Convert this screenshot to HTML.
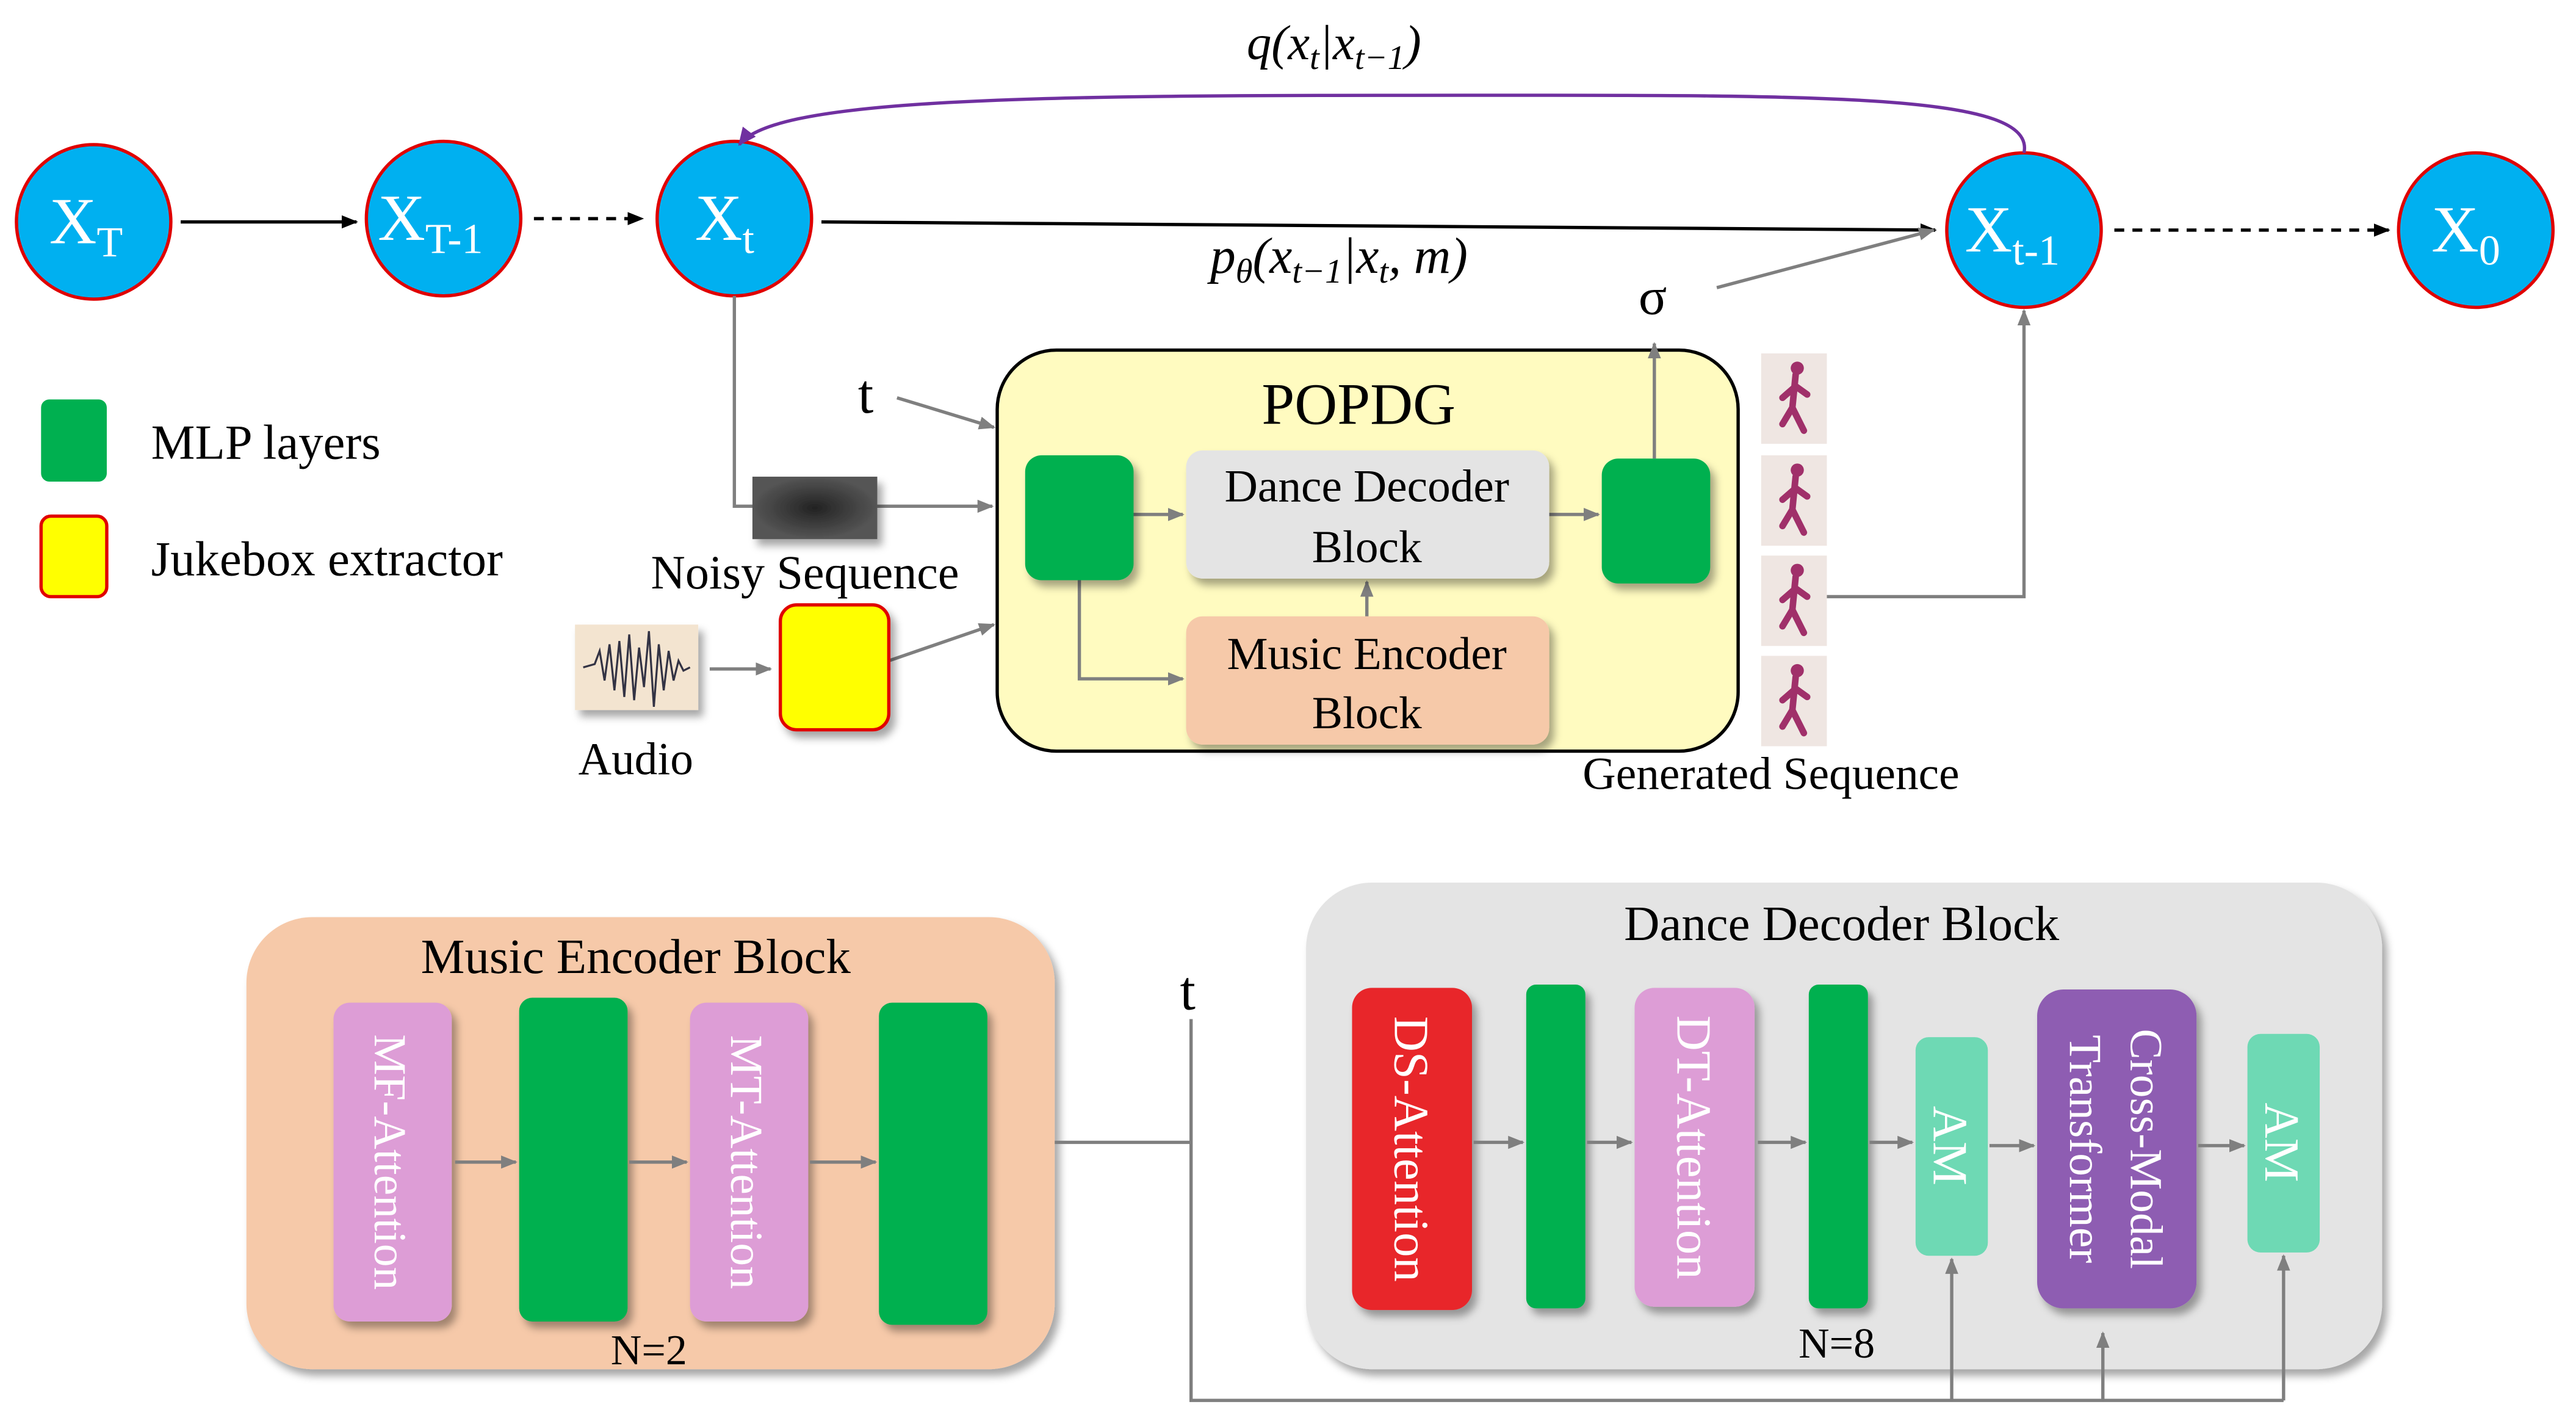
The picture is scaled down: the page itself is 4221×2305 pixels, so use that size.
<!DOCTYPE html>
<html><head><meta charset="utf-8"><style>
html,body{margin:0;padding:0;background:#fff;}
svg{display:block;}
text{font-family:"Liberation Serif",serif;}
</style></head><body>
<svg width="4221" height="2305" viewBox="0 0 1568 856" preserveAspectRatio="none" xmlns="http://www.w3.org/2000/svg">
<defs>
<marker id="ab" markerWidth="10" markerHeight="10" refX="9" refY="5" orient="auto" markerUnits="userSpaceOnUse"><path d="M0,1 L10,5 L0,9 Z" fill="#000"/></marker>
<marker id="ag" markerWidth="10" markerHeight="10" refX="9" refY="5" orient="auto" markerUnits="userSpaceOnUse"><path d="M0,1 L10,5 L0,9 Z" fill="#7f7f7f"/></marker>
<marker id="ap" markerWidth="12" markerHeight="12" refX="10" refY="6" orient="auto" markerUnits="userSpaceOnUse"><path d="M0,1 L11,6 L0,11 Z" fill="#7030a0"/></marker>
<filter id="sh" x="-20%" y="-20%" width="150%" height="150%"><feDropShadow dx="3" dy="4" stdDeviation="2.5" flood-color="#000" flood-opacity="0.35"/></filter>
<radialGradient id="nz"><stop offset="0" stop-color="#222"/><stop offset="1" stop-color="#555"/></radialGradient>
</defs>

<g fill="#00b0f0" stroke="#e00000" stroke-width="2">
<circle cx="57" cy="135" r="47"/><circle cx="270" cy="133" r="47"/><circle cx="447" cy="133" r="47"/><circle cx="1232" cy="140" r="47"/><circle cx="1507" cy="140" r="47"/>
</g>
<g fill="#fff" font-size="40">
<text x="30" y="148">X<tspan font-size="26" dy="8">T</tspan></text>
<text x="230" y="146">X<tspan font-size="26" dy="8">T-1</tspan></text>
<text x="423" y="146">X<tspan font-size="26" dy="8">t</tspan></text>
<text x="1196" y="153">X<tspan font-size="26" dy="8">t-1</tspan></text>
<text x="1480" y="153">X<tspan font-size="26" dy="8">0</tspan></text>
</g>
<g stroke="#000" stroke-width="2" fill="none">
<line x1="110" y1="135" x2="217" y2="135" marker-end="url(#ab)"/>
<line x1="325" y1="133" x2="391" y2="133" stroke-dasharray="6,5" marker-end="url(#ab)"/>
<line x1="500" y1="135" x2="1178" y2="140" marker-end="url(#ab)"/>
<line x1="1287" y1="140" x2="1454" y2="140" stroke-dasharray="6,5" marker-end="url(#ab)"/>
</g>
<path d="M1232,93 C1240,55 1100,58 840,58 C600,58 470,62 450,88" fill="none" stroke="#7030a0" stroke-width="2" marker-end="url(#ap)"/>
<text x="812" y="36" font-size="30" font-style="italic" text-anchor="middle">q(x<tspan font-size="21" dy="6">t</tspan><tspan dy="-6">|x</tspan><tspan font-size="21" dy="6">t−1</tspan><tspan dy="-6">)</tspan></text>
<text x="815" y="166" font-size="31" font-style="italic" text-anchor="middle">p<tspan font-size="21" dy="6">θ</tspan><tspan dy="-6">(x</tspan><tspan font-size="21" dy="6">t−1</tspan><tspan dy="-6">|x</tspan><tspan font-size="21" dy="6">t</tspan><tspan dy="-6">, m)</tspan></text>
<text x="1006" y="191" font-size="32" text-anchor="middle">σ</text>
<line x1="1045" y1="175" x2="1177" y2="140" stroke="#7f7f7f" stroke-width="2" marker-end="url(#ag)"/>

<rect x="25" y="243" width="40" height="50" rx="5" fill="#00b050"/>
<text x="92" y="279" font-size="30">MLP layers</text>
<rect x="25" y="314" width="40" height="49" rx="6" fill="#ffff00" stroke="#e00000" stroke-width="2"/>
<text x="92" y="350" font-size="30">Jukebox extractor</text>

<rect x="607" y="213" width="451" height="244" rx="36" fill="#fffbc0" stroke="#000" stroke-width="2"/>
<text x="827" y="258" font-size="36" text-anchor="middle">POPDG</text>
<text x="527" y="251" font-size="34" text-anchor="middle">t</text>
<g stroke="#7f7f7f" stroke-width="2" fill="none">
<line x1="546" y1="242" x2="605" y2="260" marker-end="url(#ag)"/>
<polyline points="447,180 447,308 604,308" marker-end="url(#ag)"/>
<line x1="432" y1="407" x2="469" y2="407" marker-end="url(#ag)"/>
<line x1="541" y1="402" x2="605" y2="380" marker-end="url(#ag)"/>
<line x1="690" y1="313" x2="720" y2="313" marker-end="url(#ag)"/>
<line x1="943" y1="313" x2="973" y2="313" marker-end="url(#ag)"/>
<polyline points="657,353 657,413 720,413" marker-end="url(#ag)"/>
<line x1="832" y1="375" x2="832" y2="354" marker-end="url(#ag)"/>
<line x1="1007" y1="279" x2="1007" y2="209" marker-end="url(#ag)"/>
<polyline points="1112,363 1232,363 1232,189" marker-end="url(#ag)"/>
</g>
<rect x="458" y="290" width="76" height="38" fill="url(#nz)" filter="url(#sh)"/>
<text x="490" y="358" font-size="29" text-anchor="middle">Noisy Sequence</text>
<rect x="350" y="380" width="75" height="52" fill="#f3e4d0" filter="url(#sh)"/>
<path d="M355,406 L362,404 365,396 368,414 371,392 374,420 377,390 380,424 383,386 386,426 389,394 392,418 395,384 398,430 401,392 404,420 407,396 410,414 413,402 416,408 420,406" stroke="#334" stroke-width="1.2" fill="none"/>
<text x="387" y="471" font-size="28" text-anchor="middle">Audio</text>
<rect x="475" y="368" width="66" height="76" rx="10" fill="#ffff00" stroke="#e00000" stroke-width="2" filter="url(#sh)"/>
<rect x="624" y="277" width="66" height="76" rx="10" fill="#00b050" filter="url(#sh)"/>
<rect x="722" y="274" width="221" height="78" rx="10" fill="#e4e4e4" filter="url(#sh)"/>
<text x="832" y="305" font-size="28" text-anchor="middle">Dance Decoder</text>
<text x="832" y="342" font-size="28" text-anchor="middle">Block</text>
<rect x="722" y="375" width="221" height="78" rx="10" fill="#f6c9a9" filter="url(#sh)"/>
<text x="832" y="407" font-size="28" text-anchor="middle">Music Encoder</text>
<text x="832" y="443" font-size="28" text-anchor="middle">Block</text>
<rect x="975" y="279" width="66" height="76" rx="10" fill="#00b050" filter="url(#sh)"/>
<g>
<rect x="1072" y="215" width="40" height="55" fill="#efe6e2"/>
<rect x="1072" y="277" width="40" height="55" fill="#efe6e2"/>
<rect x="1072" y="338" width="40" height="55" fill="#efe6e2"/>
<rect x="1072" y="399" width="40" height="55" fill="#efe6e2"/>
<g stroke="#a0306a" stroke-width="4" fill="none" stroke-linecap="round">
<path d="M1093,228 L1091,248 1098,262 M1091,248 1085,258 M1093,235 1085,242 M1093,235 1100,240"/>
<path d="M1093,290 L1091,310 1098,324 M1091,310 1085,320 M1093,297 1085,304 M1093,297 1100,302"/>
<path d="M1093,351 L1091,371 1098,385 M1091,371 1085,381 M1093,358 1085,365 M1093,358 1100,363"/>
<path d="M1093,412 L1091,432 1098,446 M1091,432 1085,442 M1093,419 1085,426 M1093,419 1100,424"/>
</g>
<g fill="#a0306a"><circle cx="1094" cy="224" r="4"/><circle cx="1094" cy="286" r="4"/><circle cx="1094" cy="347" r="4"/><circle cx="1094" cy="408" r="4"/></g>
</g>
<text x="1078" y="480" font-size="28" text-anchor="middle">Generated Sequence</text>

<rect x="150" y="558" width="492" height="275" rx="40" fill="#f6c9a9" filter="url(#sh)"/>
<text x="387" y="592" font-size="30" text-anchor="middle">Music Encoder Block</text>
<rect x="203" y="610" width="72" height="194" rx="10" fill="#dd9dd6" filter="url(#sh)"/>
<text transform="translate(228,707) rotate(90)" font-size="28" fill="#fff" text-anchor="middle">MF-Attention</text>
<rect x="316" y="607" width="66" height="197" rx="8" fill="#00b050" filter="url(#sh)"/>
<rect x="420" y="610" width="72" height="194" rx="10" fill="#dd9dd6" filter="url(#sh)"/>
<text transform="translate(445,707) rotate(90)" font-size="28" fill="#fff" text-anchor="middle">MT-Attention</text>
<rect x="535" y="610" width="66" height="196" rx="8" fill="#00b050" filter="url(#sh)"/>
<text x="395" y="830" font-size="26" text-anchor="middle">N=2</text>
<g stroke="#7f7f7f" stroke-width="2" fill="none">
<line x1="277" y1="707" x2="314" y2="707" marker-end="url(#ag)"/>
<line x1="383" y1="707" x2="418" y2="707" marker-end="url(#ag)"/>
<line x1="493" y1="707" x2="533" y2="707" marker-end="url(#ag)"/>
</g>

<rect x="795" y="537" width="655" height="296" rx="40" fill="#e4e4e4" filter="url(#sh)"/>
<text x="1121" y="572" font-size="30" text-anchor="middle">Dance Decoder Block</text>
<rect x="823" y="601" width="73" height="196" rx="12" fill="#e8282c" filter="url(#sh)"/>
<text transform="translate(849,699) rotate(90)" font-size="30" fill="#fff" text-anchor="middle">DS-Attention</text>
<rect x="929" y="599" width="36" height="197" rx="6" fill="#00b050" filter="url(#sh)"/>
<rect x="995" y="601" width="73" height="194" rx="12" fill="#dd9dd6" filter="url(#sh)"/>
<text transform="translate(1021,698) rotate(90)" font-size="30" fill="#fff" text-anchor="middle">DT-Attention</text>
<rect x="1101" y="599" width="36" height="197" rx="6" fill="#00b050" filter="url(#sh)"/>
<rect x="1166" y="631" width="44" height="133" rx="8" fill="#6ed9b4"/>
<text transform="translate(1177,697) rotate(90)" font-size="30" fill="#fff" text-anchor="middle">AM</text>
<rect x="1240" y="602" width="97" height="194" rx="16" fill="#8e5db2" filter="url(#sh)"/>
<text transform="translate(1297,699) rotate(90)" font-size="28" fill="#fff" text-anchor="middle">Cross-Modal</text>
<text transform="translate(1260,699) rotate(90)" font-size="28" fill="#fff" text-anchor="middle">Transformer</text>
<rect x="1368" y="629" width="44" height="133" rx="8" fill="#6ed9b4"/>
<text transform="translate(1379,695) rotate(90)" font-size="30" fill="#fff" text-anchor="middle">AM</text>
<text x="1118" y="826" font-size="26" text-anchor="middle">N=8</text>
<g stroke="#7f7f7f" stroke-width="2" fill="none">
<line x1="897" y1="695" x2="927" y2="695" marker-end="url(#ag)"/>
<line x1="966" y1="695" x2="993" y2="695" marker-end="url(#ag)"/>
<line x1="1070" y1="695" x2="1099" y2="695" marker-end="url(#ag)"/>
<line x1="1138" y1="695" x2="1164" y2="695" marker-end="url(#ag)"/>
<line x1="1211" y1="697" x2="1238" y2="697" marker-end="url(#ag)"/>
<line x1="1338" y1="697" x2="1366" y2="697" marker-end="url(#ag)"/>
<polyline points="642,695 725,695"/>
<polyline points="725,620 725,852 1390,852"/>
<line x1="1188" y1="852" x2="1188" y2="766" marker-end="url(#ag)"/>
<line x1="1280" y1="852" x2="1280" y2="811" marker-end="url(#ag)"/>
<line x1="1390" y1="852" x2="1390" y2="764" marker-end="url(#ag)"/>
</g>
<text x="723" y="614" font-size="34" text-anchor="middle">t</text>
</svg>
</body></html>
